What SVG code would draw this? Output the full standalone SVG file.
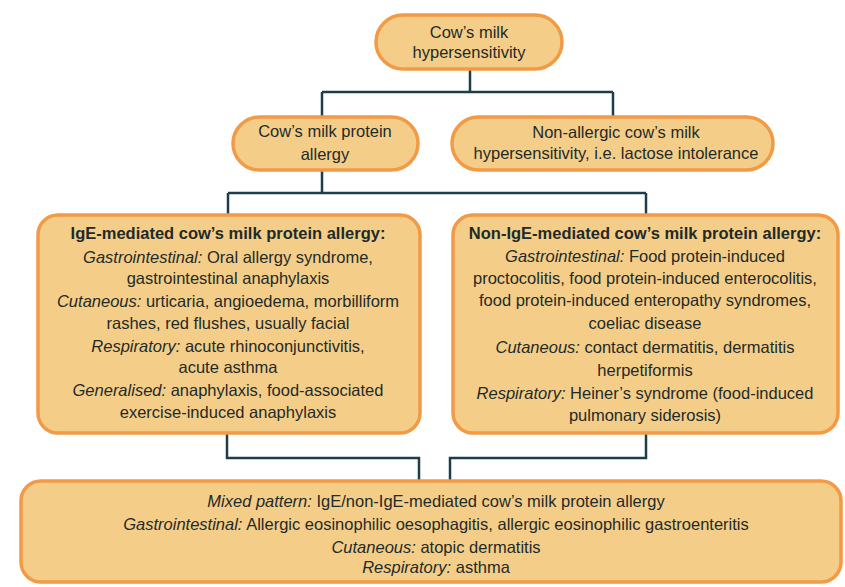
<svg xmlns="http://www.w3.org/2000/svg" width="845" height="587" viewBox="0 0 845 587">
<style>
.box{fill:#F4CE88;stroke:#F29A45;stroke-width:3.5}
.con{fill:none;stroke:#1E3D4B;stroke-width:2.5}
text{font-family:"Liberation Sans",Arial,sans-serif;font-size:16.5px;fill:#1f2a2a;text-anchor:middle}
.b{font-weight:bold}
.i{font-style:italic}
</style>
<rect width="845" height="587" fill="#ffffff"/>
<g id="connectors">
<path class="con" d="M470 69 V92 M322 92 H613 M322 92 V117 M613 92 V117"/>
<path class="con" d="M322 170 V193 M228 193 H646 M228 193 V215 M646 193 V215"/>
<path class="con" d="M227 433 V458 H419 V481"/>
<path class="con" d="M646 433 V458 H450 V481"/>
</g>
<g id="n-root">
<rect class="box" x="376" y="15" width="186" height="54" rx="27"/>
<text x="469" y="38">Cow’s milk</text>
<text x="469" y="58">hypersensitivity</text>
</g>
<g id="n-cmpa">
<rect class="box" x="233" y="117" width="185" height="53" rx="26.5"/>
<text x="325" y="137">Cow’s milk protein</text>
<text x="325" y="160">allergy</text>
</g>
<g id="n-nonallergic">
<rect class="box" x="452" y="117" width="321" height="53" rx="26.5"/>
<text x="616" y="138">Non-allergic cow’s milk</text>
<text x="616" y="159">hypersensitivity, i.e. lactose intolerance</text>
</g>
<g id="n-ige">
<rect class="box" x="38" y="215" width="382" height="218" rx="20"/>
<text x="228" y="239" class="b">IgE-mediated cow’s milk protein allergy:</text>
<text x="228" y="263"><tspan class="i">Gastrointestinal:</tspan> Oral allergy syndrome,</text>
<text x="228" y="284">gastrointestinal anaphylaxis</text>
<text x="228" y="307"><tspan class="i">Cutaneous:</tspan> urticaria, angioedema, morbilliform</text>
<text x="228" y="329">rashes, red flushes, usually facial</text>
<text x="228" y="352"><tspan class="i">Respiratory:</tspan> acute rhinoconjunctivitis,</text>
<text x="228" y="373">acute asthma</text>
<text x="228" y="396"><tspan class="i">Generalised:</tspan> anaphylaxis, food-associated</text>
<text x="228" y="418">exercise-induced anaphylaxis</text>
</g>
<g id="n-nonige">
<rect class="box" x="453" y="215" width="385" height="218" rx="20"/>
<text x="645" y="239" class="b">Non-IgE-mediated cow’s milk protein allergy:</text>
<text x="645" y="262"><tspan class="i">Gastrointestinal:</tspan> Food protein-induced</text>
<text x="645" y="284">proctocolitis, food protein-induced enterocolitis,</text>
<text x="645" y="306">food protein-induced enteropathy syndromes,</text>
<text x="645" y="329">coeliac disease</text>
<text x="645" y="353"><tspan class="i">Cutaneous:</tspan> contact dermatitis, dermatitis</text>
<text x="645" y="376">herpetiformis</text>
<text x="645" y="399"><tspan class="i">Respiratory:</tspan> Heiner’s syndrome (food-induced</text>
<text x="645" y="421">pulmonary siderosis)</text>
</g>
<g id="n-mixed">
<rect class="box" x="21" y="481" width="820" height="101" rx="20"/>
<text x="436" y="507"><tspan class="i">Mixed pattern:</tspan> IgE/non-IgE-mediated cow’s milk protein allergy</text>
<text x="436" y="530"><tspan class="i">Gastrointestinal:</tspan> Allergic eosinophilic oesophagitis, allergic eosinophilic gastroenteritis</text>
<text x="436" y="553"><tspan class="i">Cutaneous:</tspan> atopic dermatitis</text>
<text x="436" y="573"><tspan class="i">Respiratory:</tspan> asthma</text>
</g>
</svg>
